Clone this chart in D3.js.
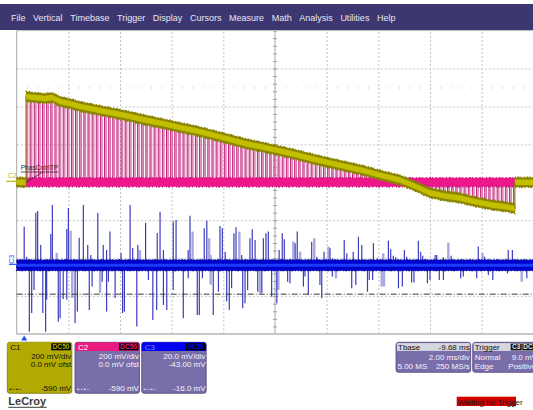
<!DOCTYPE html>
<html>
<head>
<meta charset="utf-8">
<script src="https://cdn.jsdelivr.net/npm/d3@7"></script>
<style>
  html, body { margin: 0; padding: 0; background: #ffffff; }
  svg { display: block; font-family: "Liberation Sans", Arial, sans-serif; }
</style>
</head>
<body>
<svg id="scope" width="533" height="410"></svg>
<script>
// ---- menu bar ----
const menuItems = ["File", "Vertical", "Timebase", "Trigger", "Display", "Cursors",
                   "Measure", "Math", "Analysis", "Utilities", "Help"];

// ---- acquisition settings ----
const timePerDiv = 2;          // ms/div
const hDivs = 10;
const vDivs = 8;
const c12PerDiv = 200;         // mV/div for C1 and C2
const c3PerDiv = 20;           // mV/div for C3
const c3Offset = -43;          // mV
const cursorC12 = -590;        // mV
const cursorC3 = -16;          // mV
const markerLevel = 500;       // mV (dotted reference row)
const triggerTime = 0.29;      // ms

// ---- C1: supply rail during the phase-control window (ms, mV) ----
const c1Times  = [0.36, 0.71, 1.10, 1.37, 1.68, 2.06, 2.45, 2.84, 3.22, 3.81,
                  4.39, 4.89, 5.16, 5.74, 6.32, 6.90, 7.60, 8.26, 8.92, 9.50,
                  10.04, 10.78, 11.47, 12.13, 12.79, 13.49, 14.07, 14.84, 15.42, 16.00,
                  16.58, 17.16, 17.63, 18.01, 18.40, 18.71, 19.02, 19.29];
const c1Levels = [452, 447, 442, 447, 426, 415, 400, 389, 379, 363,
                  347, 331, 323, 307, 289, 273, 249, 226, 202, 186,
                  170, 147, 123, 102, 82, 60, 38, 12, -20, -56,
                  -72, -83, -99, -109, -120, -125, -131, -139];
const c1Noise = 26;            // mV, half width of the trace band

// ---- C2: gate pulses (rising edges, ms) ----
const c2Edges = [0.36, 0.52, 0.68, 0.84, 1.00, 1.16, 1.32, 1.48, 1.64, 1.80,
                 1.96, 2.12, 2.28, 2.44, 2.60, 2.76, 2.92, 3.08, 3.24, 3.40,
                 3.56, 3.72, 3.88, 4.04, 4.20, 4.36, 4.52, 4.68, 4.84, 5.00,
                 5.16, 5.32, 5.48, 5.64, 5.80, 5.96, 6.12, 6.28, 6.44, 6.60,
                 6.76, 6.92, 7.08, 7.24, 7.40, 7.56, 7.72, 7.88, 8.04, 8.20,
                 8.36, 8.52, 8.68, 8.84, 9.00, 9.16, 9.32, 9.48, 9.64, 9.80,
                 9.96, 10.12, 10.28, 10.44, 10.60, 10.76, 10.92, 11.08, 11.24, 11.40,
                 11.56, 11.72, 11.88, 12.04, 12.20, 12.36, 12.52, 12.68, 12.84, 13.00,
                 13.16, 13.32, 13.48, 13.64, 13.80, 13.96, 14.12, 14.28, 14.44, 14.60,
                 14.76, 14.92, 15.08, 15.24, 15.40, 15.56, 15.72, 15.88, 16.04, 16.20,
                 16.36, 16.52, 16.68, 16.84, 17.00, 17.16, 17.32, 17.48, 17.64, 17.80,
                 17.96, 18.12, 18.28, 18.44, 18.60, 18.76, 18.92, 19.08, 19.24];
const c2PulseWidth = 0.07;     // ms
const c2Noise = 24;            // mV

// ---- C3: current-sense spikes [ms, mV] ----
const c3Spikes = [
  [0.29,19.6],[0.39,3.8],[0.74,27],[0.81,27.9],[0.93,10],[1.32,15.8],[1.38,31],[1.94,18.4],
  [2.00,29.5],[2.42,13.7],[2.58,31],[2.75,10],[2.87,4.7],[3.14,26.8],[3.35,10],[3.48,7.3],
  [3.61,17],[4.04,5.7],[4.39,31],[4.49,8.4],[4.69,10],[4.99,21.6],[5.44,16.3],[5.55,27.5],
  [5.68,7.3],[6.06,22.3],[6.17,23.1],[6.64,7.3],[6.71,25.3],[7.26,18.8],[7.36,22.8],[7.87,20],
  [7.96,18.8],[8.07,6.4],[8.41,16.1],[8.49,19.3],[8.71,4.7],[9.03,13.5],[9.12,18.2],[9.23,12.6],
  [9.55,13.5],[9.65,16.1],[9.74,17],[10.16,7.3],[10.28,16.1],[10.36,13],[10.78,10.9],[10.86,17],
  [11.42,11.7],[11.62,3.8],[11.90,6.4],[12.13,8.2],[12.22,3],[12.68,12.6],[12.78,5.6],[13.03,6.4],
  [13.23,14.3],[13.36,10],[13.81,10.9],[13.96,3],[14.39,12.2],[14.48,7.7],[14.58,4.2],[14.67,3.5],
  [15.01,7.3],[15.10,3.8],[15.55,12.2],[15.64,6.4],[15.72,4.2],[16.20,4.7],[16.26,4.7],[16.52,3.5],
  [16.82,4.2],[17.87,9.1],[18.11,3.8],[19.03,7.3],[19.19,7.3],
  [0.49,-35.8],[0.58,-25.9],[0.67,-13.8],[1.01,-25.9],[1.12,-35.8],[1.16,-19],[1.61,-30.5],[1.68,-28.7],
  [1.80,-18.5],[1.94,-19],[2.26,-31.2],[2.35,-25.2],[2.81,-24.3],[2.92,-12],[3.31,-9.4],[3.48,-25.2],
  [3.55,-9.4],[3.81,-18],[4.10,-25.9],[4.17,-25.2],[4.65,-33.1],[5.10,-8.5],[5.27,-29.6],[5.42,-24.3],
  [5.68,-21.7],[5.81,-24.3],[6.06,-13.8],[6.45,-28.7],[6.64,-7.6],[6.99,-27],[7.07,-27],[7.19,-7.6],
  [7.61,-27],[7.81,-14.7],[8.13,-19.9],[8.23,-24.3],[8.32,-12.9],[8.75,-23.4],[8.84,-20.8],[8.94,-13.8],
  [9.33,-14.7],[9.49,-15.5],[9.87,-17.3],[10.07,-20.8],[10.49,-9.4],[10.58,-10.2],[11.10,-12],[11.16,-6.7],
  [11.29,-16.4],[11.74,-11.1],[11.81,-18.1],[12.22,-6.7],[12.97,-12.9],[13.13,-11.1],[13.58,-14.7],[13.65,-8.5],
  [13.78,-8.5],[14.78,-12.9],[14.93,-12],[15.29,-9.9],[15.38,-9.9],[15.90,-10.2],[16.00,-8.5],[16.36,-8.5],
  [16.52,-8.5],[17.19,-7.6],[17.29,-6.7],[17.81,-7.6],[18.26,-5.9],[18.43,-8.5],[19.00,-5],[19.75,-7.6]
];
// persistence ghosts of the spikes (drawn lighter and wider)
const c3FaintSpikes = [
  [1.55,5.7],[2.09,17.5],[4.77,7.3],[6.81,17],[7.45,13.5],[7.51,4.7],[8.62,17],[10.71,11.8],
  [10.97,6.4],[11.52,13.5],[12.07,9.1],[14.19,5.6],[16.71,11.2],[18.03,5.9],
  [2.15,-18],[3.23,-15.4],[7.51,-11],[9.42,-15.5],[10.13,-13.8],[12.36,-7.6],[14.13,-12],[14.22,-12],[19.55,-9.4]
];
const c3Band = [-3.6, 2.1];    // mV, baseline noise envelope

// ---- readout boxes ----
const chanBoxes = [
  { name: "C1", lines: ["200 mV/div", "0.0 mV ofst"], cursor: "-590 mV" },
  { name: "C2", lines: ["200 mV/div", "0.0 mV ofst"], cursor: "-590 mV" },
  { name: "C3", lines: ["20.0 mV/div", "-43.00 mV"], cursor: "-16.0 mV" }
];
const tbaseInfo = { title: "Tbase", delay: "-9.68 ms", perDiv: "2.00 ms/div", samples: "5.00 MS", rate: "250 MS/s" };
const trigInfo = { title: "Trigger", mode: "Normal", level: "9.0 mV", type: "Edge", slope: "Positive" };

// =====================================================================
const svg = d3.select("#scope");
const X0 = 16.7, X1 = 533.3, Y0 = 30.6, Y1 = 334;

const x = d3.scaleLinear().domain([0, hDivs * timePerDiv]).range([X0, X1]);
const yDiv = d3.scaleLinear().domain([-vDivs / 2, vDivs / 2]).range([Y1, Y0]);
const y12 = d3.scaleLinear().domain([-vDivs / 2 * c12PerDiv, vDivs / 2 * c12PerDiv]).range([Y1, Y0]);
const y3 = d3.scaleLinear()
  .domain([-vDivs / 2 * c3PerDiv - c3Offset, vDivs / 2 * c3PerDiv - c3Offset]).range([Y1, Y0]);

// menu bar
const menu = svg.append("g");
menu.append("rect").attr("x", 0).attr("y", 4).attr("width", 533).attr("height", 26).attr("fill", "#3c3671");
let mx = 11;
menuItems.forEach(label => {
  const t = menu.append("text").attr("x", mx).attr("y", 20.5)
    .attr("fill", "#e8e6f2").attr("font-size", 9).text(label);
  mx += t.node().getComputedTextLength() + 7.6;
});

// graticule
const grid = svg.append("g");
const tMid = hDivs * timePerDiv / 2;
grid.append("g").attr("transform", `translate(0,${Y1})`)
  .call(d3.axisBottom(x)
    .tickValues(d3.range(1, hDivs).map(i => i * timePerDiv).filter(v => v !== tMid))
    .tickSize(-(Y1 - Y0)).tickFormat(""))
  .call(g => g.select(".domain").remove())
  .selectAll("line").attr("stroke", "#c4c4c4").attr("stroke-dasharray", "2,2");
grid.append("g").attr("transform", `translate(${X0},0)`)
  .call(d3.axisLeft(yDiv).tickValues([-3, -2, -1, 1, 2, 3]).tickSize(-(X1 - X0)).tickFormat(""))
  .call(g => g.select(".domain").remove())
  .selectAll("line").attr("stroke", "#c4c4c4").attr("stroke-dasharray", "2,2");
// centre cross with minor ticks
grid.append("line").attr("x1", x(tMid)).attr("x2", x(tMid)).attr("y1", Y0).attr("y2", Y1)
  .attr("stroke", "#aaaaaa");
grid.append("line").attr("x1", X0).attr("x2", X1).attr("y1", yDiv(0)).attr("y2", yDiv(0))
  .attr("stroke", "#aaaaaa");
grid.append("g").attr("transform", `translate(${x(tMid) + 2},0)`)
  .call(d3.axisLeft(yDiv).tickValues(d3.range(-vDivs / 2, vDivs / 2 + 0.01, 0.2)).tickSize(4).tickFormat(""))
  .call(g => g.select(".domain").remove())
  .selectAll("line").attr("stroke", "#a0a0a0");
grid.append("g").attr("transform", `translate(0,${yDiv(0) - 2})`)
  .call(d3.axisBottom(x).tickValues(d3.range(0, hDivs * timePerDiv + 0.01, 0.4)).tickSize(4).tickFormat(""))
  .call(g => g.select(".domain").remove())
  .selectAll("line").attr("stroke", "#a0a0a0");
grid.append("g").attr("transform", `translate(0,${y12(markerLevel)})`)
  .call(d3.axisBottom(x).tickValues(d3.range(0.4, hDivs * timePerDiv, 0.4)).tickSize(1).tickFormat(""))
  .call(g => g.select(".domain").remove())
  .selectAll("line").attr("stroke", "#b4b4b4");
// borders
grid.append("line").attr("x1", X0).attr("x2", X0).attr("y1", Y0).attr("y2", Y1).attr("stroke", "#a8a8a8");
grid.append("line").attr("x1", X0).attr("x2", X1).attr("y1", Y0).attr("y2", Y0).attr("stroke", "#bdbdbd");
grid.append("line").attr("x1", X0).attr("x2", X1).attr("y1", Y1).attr("y2", Y1)
  .attr("stroke", "#c8c8c8").attr("stroke-width", 2);

// ---- C3 trace ----
const c3g = svg.append("g");
c3g.selectAll("line.faint").data(c3FaintSpikes).join("line").attr("class", "faint")
  .attr("x1", d => x(d[0])).attr("x2", d => x(d[0]))
  .attr("y1", y3(0)).attr("y2", d => y3(d[1]))
  .attr("stroke", "#a9a9e2").attr("stroke-width", 2.4);
c3g.selectAll("line.spike").data(c3Spikes).join("line").attr("class", "spike")
  .attr("x1", d => x(d[0])).attr("x2", d => x(d[0]))
  .attr("y1", y3(0)).attr("y2", d => y3(d[1]))
  .attr("stroke", "#3c3cbf").attr("stroke-width", 1.2);
const c3Area = d3.area().x(d => x(d)).y0(y3(c3Band[0])).y1(y3(c3Band[1]));
const fullSpan = [0, hDivs * timePerDiv];
c3g.append("path").attr("d", c3Area(fullSpan)).attr("fill", "#0000cc")
  .attr("stroke", "#00008a").attr("stroke-width", 1.4).attr("stroke-dasharray", "1,1.5,2,1,1,2.5");
c3g.append("line").attr("x1", X0).attr("x2", X1)
  .attr("y1", y3((c3Band[0] + c3Band[1]) / 2)).attr("y2", y3((c3Band[0] + c3Band[1]) / 2))
  .attr("stroke", "#1a3cff").attr("stroke-width", 3);

// cursor
svg.append("line").attr("x1", X0).attr("x2", X1).attr("y1", y3(cursorC3)).attr("y2", y3(cursorC3))
  .attr("stroke", "#3a3a3a").attr("stroke-dasharray", "6,2,1,2");

// ---- C2 pulses, clipped to the C1 envelope ----
const c1Pts = c1Times.map((t, i) => [t, c1Levels[i]]);
const defs = svg.append("defs");
defs.append("clipPath").attr("id", "pulseClip").append("path")
  .attr("d", d3.area().x(d => x(d[0])).y0(y12(0)).y1(d => y12(d[1]))(c1Pts));
const c2g = svg.append("g").attr("clip-path", "url(#pulseClip)");
const pTop = y12(vDivs / 2 * c12PerDiv), pBot = y12(-vDivs / 2 * c12PerDiv);
c2g.selectAll("rect").data(c2Edges).join("rect")
  .attr("x", d => x(d)).attr("width", d => x(d + c2PulseWidth) - x(d))
  .attr("y", pTop).attr("height", pBot - pTop).attr("fill", "#e6a6c8");
c2g.selectAll("line.rise").data(c2Edges).join("line").attr("class", "rise")
  .attr("x1", d => x(d)).attr("x2", d => x(d)).attr("y1", pTop).attr("y2", pBot)
  .attr("stroke", "#c0217b").attr("stroke-width", 1);
c2g.selectAll("line.fall").data(c2Edges).join("line").attr("class", "fall")
  .attr("x1", d => x(d + c2PulseWidth)).attr("x2", d => x(d + c2PulseWidth)).attr("y1", pTop).attr("y2", pBot)
  .attr("stroke", "#d05a9c").attr("stroke-width", 0.8);
const c2Span = [c1Times[0], c1Times[c1Times.length - 1]];
svg.append("path")
  .attr("d", d3.area().x(d => x(d)).y0(y12(-c2Noise)).y1(y12(c2Noise))(c2Span))
  .attr("fill", "#ee1789").attr("stroke", "#b3127a").attr("stroke-width", 1.2)
  .attr("stroke-dasharray", "1,2,2,1,1,3");

// ---- C1 trace ----
const c1g = svg.append("g");
const bandOuter = d3.area().x(d => x(d[0])).y0(d => y12(d[1] - c1Noise)).y1(d => y12(d[1] + c1Noise));
const bandInner = d3.area().x(d => x(d[0])).y0(d => y12(d[1] - c1Noise * 0.55)).y1(d => y12(d[1] + c1Noise * 0.55));
const c1Base = [[[0, 0], [c1Times[0], 0]], [[c1Times[c1Times.length - 1], 0], [hDivs * timePerDiv, 0]]];
[c1Pts, ...c1Base].forEach(seg => {
  c1g.append("path").attr("d", bandOuter(seg)).attr("fill", "#8c8700")
    .attr("stroke", "#857f00").attr("stroke-width", 1.6).attr("stroke-dasharray", "1,1.5,2,1,1,2.5");
  c1g.append("path").attr("d", bandInner(seg)).attr("fill", "#c4be00");
});
// edges of the window
c1g.append("line").attr("x1", x(c1Times[0])).attr("x2", x(c1Times[0]))
  .attr("y1", y12(0)).attr("y2", y12(c1Levels[0])).attr("stroke", "#8c8700");
c1g.append("line").attr("x1", x(c2Span[1])).attr("x2", x(c2Span[1]))
  .attr("y1", y12(0)).attr("y2", y12(c1Levels[c1Levels.length - 1])).attr("stroke", "#8c8700");

// trace label
const lab = svg.append("g");
lab.append("text").attr("x", 20.7).attr("y", 170.3).attr("font-size", 6.6).attr("fill", "#2e2e2e")
  .text("PhasCntrlTP");
lab.append("line").attr("x1", 20.7).attr("x2", 58).attr("y1", 172).attr("y2", 172)
  .attr("stroke", "#2e2e2e").attr("stroke-width", 0.8);
lab.append("line").attr("x1", x(c1Times[0])).attr("y1", y12(0)).attr("x2", 43).attr("y2", 172)
  .attr("stroke", "#2e2e2e").attr("stroke-width", 0.8);

// channel markers at the left edge
svg.append("text").attr("x", 8).attr("y", 178).attr("font-size", 7).attr("fill", "#c2b400").text("C2");
svg.append("line").attr("x1", 6).attr("x2", X0).attr("y1", y12(0) - 1).attr("y2", y12(0) - 1)
  .attr("stroke", "#c2b400").attr("stroke-width", 1.2);
svg.append("text").attr("transform", `translate(13.5,${y3(0)}) rotate(-90)`)
  .attr("font-size", 7).attr("fill", "#3050ff").text("C3");
svg.append("line").attr("x1", 9).attr("x2", X0).attr("y1", y3(0) + 0.5).attr("y2", y3(0) + 0.5)
  .attr("stroke", "#3050ff").attr("stroke-width", 1.2);

// trigger position marker
svg.append("path")
  .attr("d", `M${x(triggerTime) - 3},340.5 L${x(triggerTime) + 3},340.5 L${x(triggerTime)},335.5 Z`)
  .attr("fill", "#2250e0");

// ---- readout boxes ----
const boxStyle = [
  { x: 7.3,   head: "#b2aa00", body: "#b2aa00", nameFill: "#111", badgeText: "#b2aa00", text: "#111", border: "#77720a" },
  { x: 75,    head: "#e8197f", body: "#7a6eaa", nameFill: "#ffffff", badgeText: "#e8197f", text: "#f4f4fa", border: "#4f4678" },
  { x: 141.7, head: "#0000f0", body: "#7a6eaa", nameFill: "#8390ff", badgeText: "#0000f0", text: "#f4f4fa", border: "#4f4678" }
];
chanBoxes.forEach((b, i) => {
  const s = boxStyle[i];
  const g = svg.append("g").attr("transform", `translate(${s.x},342.3)`);
  const w = 64.5, h = 51;
  g.append("rect").attr("width", w).attr("height", h).attr("rx", 2.5).attr("fill", s.body)
    .attr("stroke", s.border).attr("stroke-width", 0.8);
  g.append("path").attr("d", `M0,8.8 L0,2.5 Q0,0 2.5,0 L${w - 2.5},0 Q${w},0 ${w},2.5 L${w},8.8 Z`).attr("fill", s.head);
  g.append("text").attr("x", 3).attr("y", 7.7).attr("font-size", 8).attr("fill", s.nameFill).text(b.name);
  g.append("rect").attr("x", w - 20.5).attr("y", 1).attr("width", 19.5).attr("height", 7).attr("fill", "#000");
  g.append("text").attr("x", w - 10.75).attr("y", 7.2).attr("text-anchor", "middle").attr("font-size", 6.6)
    .attr("font-weight", "bold").attr("fill", s.badgeText).text("DC50");
  g.append("text").attr("x", w - 0.6).attr("y", 16.3).attr("text-anchor", "end").attr("font-size", 8)
    .attr("fill", s.text).text(b.lines[0]);
  g.append("text").attr("x", w - 0.6).attr("y", 24.6).attr("text-anchor", "end").attr("font-size", 8)
    .attr("fill", s.text).text(b.lines[1]);
  g.append("text").attr("x", w - 0.6).attr("y", 49).attr("text-anchor", "end").attr("font-size", 8)
    .attr("fill", s.text).text(b.cursor);
  g.append("line").attr("x1", 2).attr("x2", 14).attr("y1", 47).attr("y2", 47)
    .attr("stroke", s.text).attr("stroke-width", 0.9).attr("stroke-dasharray", "2.5,1.5,1,1.5");
});

// timebase box
(function () {
  const g = svg.append("g").attr("transform", "translate(396,342.3)");
  const w = 74.7, h = 30;
  g.append("rect").attr("width", w).attr("height", h).attr("rx", 2.5).attr("fill", "#7a6eaa")
    .attr("stroke", "#4f4678").attr("stroke-width", 0.8);
  g.append("rect").attr("x", 1).attr("y", 0.8).attr("width", w - 2).attr("height", 7.8).attr("fill", "#d6d6de");
  g.append("text").attr("x", 2).attr("y", 7.6).attr("font-size", 8).attr("fill", "#111").text(tbaseInfo.title);
  g.append("text").attr("x", w - 1).attr("y", 7.6).attr("text-anchor", "end").attr("font-size", 8)
    .attr("fill", "#111").text(tbaseInfo.delay);
  g.append("text").attr("x", w - 1).attr("y", 17.6).attr("text-anchor", "end").attr("font-size", 8)
    .attr("fill", "#f4f4fa").text(tbaseInfo.perDiv);
  g.append("text").attr("x", 1.5).attr("y", 26.6).attr("font-size", 8).attr("fill", "#f4f4fa").text(tbaseInfo.samples);
  g.append("text").attr("x", w - 1).attr("y", 26.6).attr("text-anchor", "end").attr("font-size", 8)
    .attr("fill", "#f4f4fa").text(tbaseInfo.rate);
})();

// trigger box (its right part runs past the screen edge)
(function () {
  const g = svg.append("g").attr("transform", "translate(472.7,342.3)");
  const w = 74, h = 30;
  g.append("rect").attr("width", w).attr("height", h).attr("rx", 2.5).attr("fill", "#7a6eaa")
    .attr("stroke", "#4f4678").attr("stroke-width", 0.8);
  g.append("rect").attr("x", 1).attr("y", 0.8).attr("width", w - 2).attr("height", 7.8).attr("fill", "#d6d6de");
  g.append("text").attr("x", 2).attr("y", 7.6).attr("font-size", 8).attr("fill", "#111").text(trigInfo.title);
  g.append("rect").attr("x", 38).attr("y", 1.3).attr("width", 11).attr("height", 6.8).attr("fill", "#111");
  g.append("text").attr("x", 43.5).attr("y", 7.1).attr("text-anchor", "middle").attr("font-size", 6.5)
    .attr("font-weight", "bold").attr("fill", "#e6e6e6").text("C3");
  g.append("rect").attr("x", 49.6).attr("y", 1.3).attr("width", 14).attr("height", 6.8).attr("fill", "#111");
  g.append("text").attr("x", 50.5).attr("y", 7.1).attr("font-size", 6.5)
    .attr("font-weight", "bold").attr("fill", "#e6e6e6").text("DC");
  g.append("text").attr("x", 2).attr("y", 17.6).attr("font-size", 8).attr("fill", "#f4f4fa").text(trigInfo.mode);
  g.append("text").attr("x", 39).attr("y", 17.6).attr("font-size", 8).attr("fill", "#f4f4fa").text(trigInfo.level);
  g.append("text").attr("x", 2).attr("y", 26.6).attr("font-size", 8).attr("fill", "#f4f4fa").text(trigInfo.type);
  g.append("text").attr("x", 35.6).attr("y", 26.6).attr("font-size", 8).attr("fill", "#f4f4fa").text(trigInfo.slope);
})();

// logo
svg.append("text").attr("x", 8.3).attr("y", 405).attr("font-size", 11).attr("font-weight", "bold")
  .attr("fill", "#3c3c3c").text("LeCroy");
svg.append("line").attr("x1", 8.3).attr("x2", 46.7).attr("y1", 407.3).attr("y2", 407.3)
  .attr("stroke", "#3c3c3c").attr("stroke-width", 1);

// status
svg.append("rect").attr("x", 456.7).attr("y", 396.7).attr("width", 59.3).attr("height", 9.3).attr("fill", "#d40000");
svg.append("text").attr("x", 457.5).attr("y", 404.6).attr("font-size", 8).attr("fill", "#1a1a1a")
  .text("Waiting for Trigger");
</script>
</body>
</html>
